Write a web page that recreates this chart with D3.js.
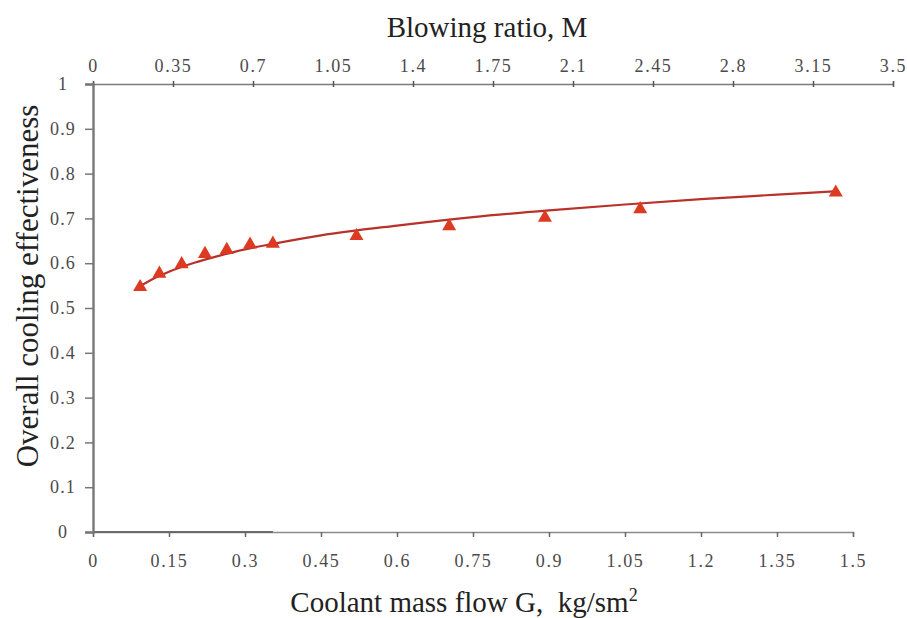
<!DOCTYPE html>
<html>
<head>
<meta charset="utf-8">
<script src="https://cdn.jsdelivr.net/npm/d3@7"></script>
<style>
  html, body { margin: 0; padding: 0; background: #fff; }
  svg { display: block; }
  svg text { font-family: "Liberation Serif", "DejaVu Serif", serif !important; white-space: pre; }
</style>
</head>
<body>
<svg id="chart" width="907" height="618"></svg>
<script>
// ---- data ----
const massFlowG = [0.093, 0.131, 0.175, 0.221, 0.264, 0.310, 0.355, 0.520, 0.703, 0.892, 1.080, 1.466];
const effectiveness = [0.549, 0.579, 0.600, 0.623, 0.632, 0.644, 0.646, 0.663, 0.685, 0.704, 0.723, 0.760];

// trend curve
const trendG = [0.09, 0.12, 0.15, 0.2, 0.25, 0.3, 0.35, 0.45, 0.6, 0.75, 0.9, 1.05, 1.2, 1.35, 1.47];
const trendEff = [0.547, 0.566, 0.581, 0.601, 0.617, 0.631, 0.642, 0.662, 0.684, 0.703, 0.718, 0.731, 0.743, 0.753, 0.761];

const bottomTicks = [0, 0.15, 0.3, 0.45, 0.6, 0.75, 0.9, 1.05, 1.2, 1.35, 1.5];
const topTicks = [0, 0.35, 0.7, 1.05, 1.4, 1.75, 2.1, 2.45, 2.8, 3.15, 3.5];
const yTicks = [0, 0.1, 0.2, 0.3, 0.4, 0.5, 0.6, 0.7, 0.8, 0.9, 1];

const xTitle = "Coolant mass flow G,  kg/sm";
const topTitle = "Blowing ratio, M";
const yTitle = "Overall cooling effectiveness";

// ---- layout ----
const svg = d3.select("#chart");
const x = d3.scaleLinear().domain([0, 1.5]).range([93, 853]);
const xTop = d3.scaleLinear().domain([0, 3.5]).range([93, 893]);
const y = d3.scaleLinear().domain([0, 1]).range([532, 84]);

const serif = '"Liberation Serif", "DejaVu Serif", serif';
const tickColor = "#4a4a4a";
const tickFont = 18;

function styleTicks(g) {
  g.attr("font-family", serif);
  g.selectAll(".tick text")
    .style("font-family", serif)
    .attr("fill", tickColor)
    .attr("font-size", tickFont);
}

// bottom axis
const gB = svg.append("g").attr("transform", `translate(0,${y(0)})`)
  .call(d3.axisBottom(x).tickValues(bottomTicks).tickFormat(d3.format("")).tickSizeOuter(0).tickSize(5));
styleTicks(gB);
gB.select(".domain").attr("stroke", "#8a8a8a").attr("stroke-width", 1.3);
gB.selectAll(".tick line").attr("stroke", "#666").attr("stroke-width", 1.5);
gB.selectAll(".tick text").attr("letter-spacing", 1.6).attr("dy", "0.71em").attr("y", 22);
// thicker first segment of the bottom axis
svg.append("line").attr("x1", x(0)).attr("x2", x(0.355)).attr("y1", y(0)).attr("y2", y(0))
  .attr("stroke", "#6a6a6a").attr("stroke-width", 2.2);

// top axis
const gT = svg.append("g").attr("transform", `translate(0,${y(1)})`)
  .call(d3.axisTop(xTop).tickValues(topTicks).tickFormat(d3.format("")).tickSizeOuter(0).tickSize(3));
styleTicks(gT);
gT.select(".domain").attr("stroke", "#7a7a7a").attr("stroke-width", 1.3);
gT.selectAll(".tick line").attr("stroke", "#555").attr("stroke-width", 1.5).attr("y2", -3).attr("y1", 3);
gT.selectAll(".tick text").attr("letter-spacing", 1.6).attr("y", -12);

// left axis
const gL = svg.append("g").attr("transform", `translate(${x(0)},0)`)
  .call(d3.axisLeft(y).tickValues(yTicks).tickFormat(d3.format("")).tickSizeOuter(0).tickSize(8));
styleTicks(gL);
gL.select(".domain").attr("stroke", "#777").attr("stroke-width", 2.4);
gL.selectAll(".tick line").attr("stroke", "#777").attr("stroke-width", 1.5);
gL.selectAll(".tick text").attr("letter-spacing", 1.2).attr("text-anchor", "middle").attr("x", -30);

// trend curve
const line = d3.line().x((d, i) => x(trendG[i])).y((d, i) => y(trendEff[i])).curve(d3.curveMonotoneX);
svg.append("path").datum(trendEff).attr("d", line)
  .attr("fill", "none").attr("stroke", "#b8322a").attr("stroke-width", 2.2);

// markers
const tri = d3.symbol().type(d3.symbolTriangle).size(85);
svg.append("g").selectAll("path").data(effectiveness).join("path")
  .attr("d", tri)
  .attr("transform", (d, i) => `translate(${x(massFlowG[i])},${y(d) + 1})`)
  .attr("fill", "#dd3a22");

// titles
svg.append("text").attr("x", 487).attr("y", 37).attr("text-anchor", "middle")
  .attr("font-size", 29).attr("fill", "#222").text(topTitle);

const xt = svg.append("text").attr("x", 464).attr("y", 612).attr("text-anchor", "middle")
  .attr("font-size", 29).attr("fill", "#222").attr("xml:space", "preserve");
xt.append("tspan").text(xTitle);
xt.append("tspan").attr("font-size", 18).attr("dy", -11).text("2");

svg.append("text").attr("transform", "translate(38,286) rotate(-90)").attr("text-anchor", "middle")
  .attr("font-size", 31).attr("fill", "#222").text(yTitle);
</script>
</body>
</html>
